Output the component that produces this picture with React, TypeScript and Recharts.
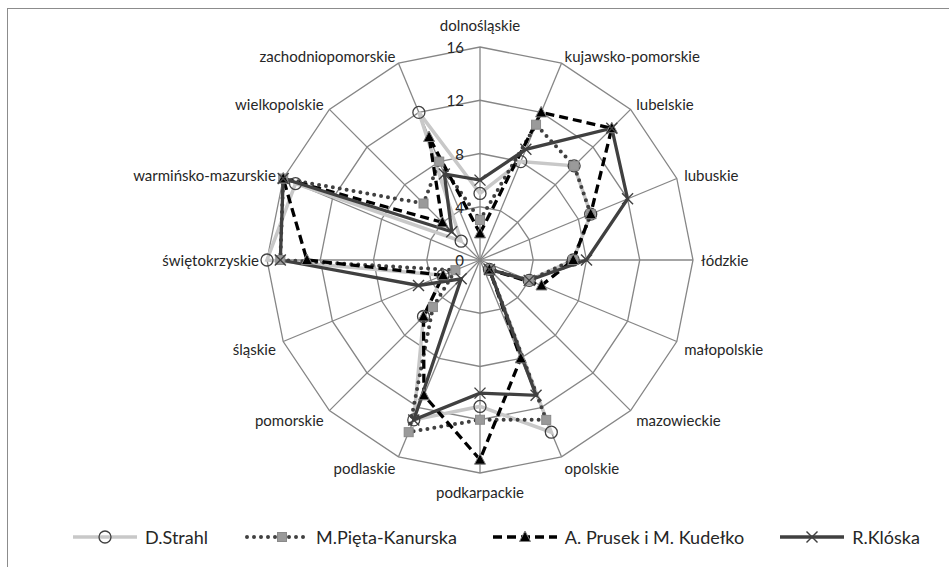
import { PolarAngleAxis, PolarGrid, PolarRadiusAxis, Radar, RadarChart } from "recharts"

document.body.style.margin = "0"

const categories = [
  "dolnośląskie",
  "kujawsko-pomorskie",
  "lubelskie",
  "lubuskie",
  "łódzkie",
  "małopolskie",
  "mazowieckie",
  "opolskie",
  "podkarpackie",
  "podlaskie",
  "pomorskie",
  "śląskie",
  "świętokrzyskie",
  "warmińsko-mazurskie",
  "wielkopolskie",
  "zachodniopomorskie",
]

const strahl = [5, 8, 10, 9, 7, 4, 1, 14, 11, 13, 6, 3, 16, 15, 2, 12]
const pieta = [3, 11, 10, 9, 7, 4, 1, 13, 12, 14, 5, 2, 15, 16, 6, 8]
const prusek = [2, 12, 14, 9, 7, 5, 1, 8, 15, 11, 6, 3, 13, 16, 4, 10]
const kloska = [6, 9, 14, 12, 8, 4, 1, 11, 10, 13, 2, 5, 15, 16, 3, 7]

const radiusTicks = [0, 4, 8, 12, 16]

const data = categories.map((name, i) => ({
  name,
  strahl: strahl[i],
  pieta: pieta[i],
  prusek: prusek[i],
  kloska: kloska[i],
}))

const CX = 480
const CY = 260
const FONT = "Lato, 'Open Sans', sans-serif"
const TEXT = "#262626"
const GRID = "#868686"

function CircleDot({ cx, cy }: any) {
  return <circle cx={cx} cy={cy} r={6} fill="none" stroke="#404040" strokeWidth={1.3} />
}

function SquareDot({ cx, cy }: any) {
  return <rect x={cx - 4.5} y={cy - 4.5} width={9} height={9} fill="#9a9a9a" stroke="#8a8a8a" />
}

function TriangleDot({ cx, cy }: any) {
  return (
    <polygon
      points={`${cx},${cy - 6} ${cx + 5.5},${cy + 4.5} ${cx - 5.5},${cy + 4.5}`}
      fill="#000"
      stroke="#7f7f7f"
      strokeWidth={1}
    />
  )
}

function CrossDot({ cx, cy }: any) {
  const s = 5.5
  return (
    <g stroke="#404040" strokeWidth={1.4}>
      <line x1={cx - s} y1={cy - s} x2={cx + s} y2={cy + s} />
      <line x1={cx - s} y1={cy + s} x2={cx + s} y2={cy - s} />
    </g>
  )
}

function AngleTick({ x, y, payload, textAnchor }: any) {
  let dy = 0
  if (textAnchor === "middle") dy = y < CY ? -14 : 11
  else if (y > CY + 5) dy = 4
  return (
    <text
      x={x}
      y={y + dy}
      textAnchor={textAnchor}
      dominantBaseline="central"
      fontFamily={FONT}
      fontSize={15}
      fill={TEXT}
    >
      {payload.value}
    </text>
  )
}

function RadiusTick({ x, y, payload }: any) {
  return (
    <text
      x={x - 16}
      y={y}
      textAnchor="end"
      dominantBaseline="central"
      fontFamily={FONT}
      fontSize={15}
      fill={TEXT}
    >
      {payload.value}
    </text>
  )
}

function LegendItem({ label, kind }: { label: string; kind: string }) {
  let sample = null
  if (kind === "strahl")
    sample = (
      <>
        <line x1={0} y1={10} x2={64} y2={10} stroke="#c8c8c8" strokeWidth={3.5} />
        <CircleDot cx={32} cy={10} />
      </>
    )
  if (kind === "pieta")
    sample = (
      <>
        <line x1={3} y1={10} x2={64} y2={10} stroke="#404040" strokeWidth={4} strokeDasharray="0 7" strokeLinecap="round" />
        <SquareDot cx={38} cy={10} />
      </>
    )
  if (kind === "prusek")
    sample = (
      <>
        <line x1={0} y1={10} x2={64} y2={10} stroke="#000" strokeWidth={3.3} strokeDasharray="9 5" />
        <TriangleDot cx={32} cy={10} />
      </>
    )
  if (kind === "kloska")
    sample = (
      <>
        <line x1={0} y1={10} x2={64} y2={10} stroke="#404040" strokeWidth={3.3} />
        <CrossDot cx={32} cy={10} />
      </>
    )
  return (
    <div style={{ display: "flex", alignItems: "center", marginRight: 36 }}>
      <svg width={64} height={20}>{sample}</svg>
      <span style={{ marginLeft: 8 }}>{label}</span>
    </div>
  )
}

export default function App() {
  return (
    <div style={{ position: "relative", width: 949, height: 567, background: "#fff", overflow: "hidden" }}>
      <div
        style={{
          position: "absolute",
          left: 7,
          top: 8,
          width: 1200,
          height: 800,
          borderLeft: "1.5px solid #8c8c8c",
          borderTop: "1.5px solid #8c8c8c",
        }}
      />
      <div style={{ position: "absolute", left: 0, top: 0 }}>
        <RadarChart
          width={949}
          height={567}
          data={data}
          cx={CX}
          cy={CY}
          outerRadius={213}
          margin={{ top: 0, right: 0, bottom: 0, left: 0 }}
        >
          <PolarGrid gridType="polygon" stroke={GRID} strokeWidth={1.3} />
          <PolarAngleAxis dataKey="name" tick={<AngleTick />} tickLine={false} axisLine={false} />
          <PolarRadiusAxis
            angle={90}
            domain={[0, 16]}
            ticks={radiusTicks as any}
            tickCount={5}
            axisLine={false}
            tickLine={false}
            tick={<RadiusTick />}
          />
          <Radar
            dataKey="strahl"
            stroke="#c8c8c8"
            strokeWidth={3.5}
            fill="none"
            fillOpacity={0}
            dot={<CircleDot />}
            isAnimationActive={false}
          />
          <Radar
            dataKey="pieta"
            stroke="#404040"
            strokeWidth={4}
            strokeDasharray="0 7"
            strokeLinecap="round"
            fill="none"
            fillOpacity={0}
            dot={<SquareDot />}
            isAnimationActive={false}
          />
          <Radar
            dataKey="prusek"
            stroke="#000"
            strokeWidth={3.3}
            strokeDasharray="9 5"
            fill="none"
            fillOpacity={0}
            dot={<TriangleDot />}
            isAnimationActive={false}
          />
          <Radar
            dataKey="kloska"
            stroke="#404040"
            strokeWidth={3.3}
            fill="none"
            fillOpacity={0}
            dot={<CrossDot />}
            isAnimationActive={false}
          />
        </RadarChart>
      </div>
      <div
        style={{
          position: "absolute",
          left: 73,
          top: 526,
          display: "flex",
          alignItems: "center",
          fontFamily: FONT,
          fontSize: 18,
          color: TEXT,
          whiteSpace: "nowrap",
        }}
      >
        <LegendItem label="D.Strahl" kind="strahl" />
        <LegendItem label="M.Pięta-Kanurska" kind="pieta" />
        <LegendItem label="A. Prusek i M. Kudełko" kind="prusek" />
        <LegendItem label="R.Klóska" kind="kloska" />
      </div>
    </div>
  )
}
